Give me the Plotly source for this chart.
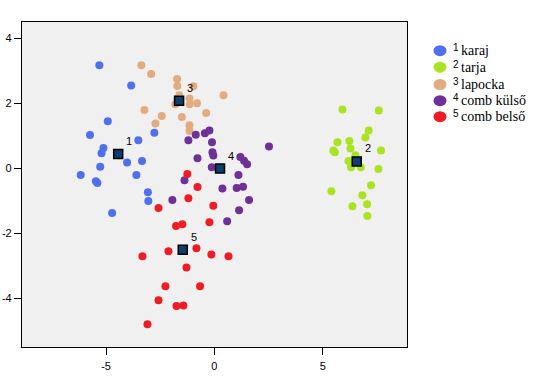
import plotly.graph_objects as go

# ---- data ----
karaj_x = [-5.31, -3.84, -4.92, -5.74, -5.12, -5.21, -3.51, -2.77, -4.03, -3.34, -5.27, -6.17, -5.47, -5.40, -3.60, -3.07, -3.05, -4.72]
karaj_y = [3.17, 2.55, 1.45, 1.02, 0.62, 0.46, 0.86, 1.09, 0.18, 0.22, 0.05, -0.21, -0.40, -0.45, -0.21, -0.74, -1.01, -1.38]

tarja_x = [5.91, 7.59, 7.12, 6.97, 5.68, 6.23, 5.49, 5.56, 6.28, 7.69, 6.51, 6.19, 6.31, 6.76, 7.57, 7.23, 5.40, 6.83, 7.05, 6.37, 7.06]
tarja_y = [1.81, 1.78, 1.16, 0.95, 0.80, 0.84, 0.55, 0.49, 0.61, 0.55, 0.40, 0.22, 0.03, 0.03, -0.02, -0.52, -0.71, -0.83, -1.11, -1.17, -1.47]

lapocka_x = [-3.37, -2.92, -1.72, -1.71, -0.97, -1.62, -1.15, -1.80, -1.14, -0.80, -3.23, -2.43, -1.50, -2.72, -1.15, -1.15, 0.42, -0.38]
lapocka_y = [3.17, 2.90, 2.75, 2.53, 2.52, 2.25, 2.15, 1.97, 1.97, 2.00, 1.79, 1.61, 1.58, 1.38, 1.32, 1.15, 2.25, 1.70]

kulso_x = [-0.86, -0.44, -0.23, -1.20, -0.11, 2.52, -0.09, -0.05, -0.78, 1.20, 1.37, 1.51, -0.12, 1.11, -1.38, 0.37, 1.03, 1.32, 1.60, -1.94, 1.14, 0.59]
kulso_y = [1.03, 1.08, 1.16, 0.86, 0.80, 0.67, 0.49, 0.39, 0.31, 0.35, 0.23, 0.12, 0.03, -0.21, -0.37, -0.62, -0.61, -0.57, -0.98, -0.98, -1.29, -1.63]

belso_x = [-1.25, -0.78, -1.20, -2.58, -0.05, -0.23, -1.48, -1.77, -0.83, -2.12, -3.32, -0.14, 0.65, -1.29, -2.26, -0.66, -2.58, -1.75, -1.43, -3.09]
belso_y = [-0.18, -0.58, -0.92, -1.22, -1.15, -1.66, -1.72, -1.78, -2.46, -2.55, -2.71, -2.65, -2.71, -3.05, -3.63, -3.63, -4.06, -4.24, -4.22, -4.80]

center_x = [-4.44, 6.57, -1.63, 0.26, -1.46]
center_y = [0.44, 0.21, 2.08, -0.01, -2.51]
center_labels = ["1", "2", "3", "4", "5"]

group_names = ["karaj", "tarja", "lapocka", "comb külső", "comb belső"]
group_colors = ["#4F70EE", "#A8E420", "#E2AC80", "#6F3097", "#EE1D25"]
group_x = [karaj_x, tarja_x, lapocka_x, kulso_x, belso_x]
group_y = [karaj_y, tarja_y, lapocka_y, kulso_y, belso_y]

x_ticks = [-5, 0, 5]
x_tick_text = ["-5", "0", "5"]
y_ticks = [-4, -2, 0, 2, 4]
y_tick_text = ["-4", "-2", "0", "2", "4"]

fig = go.Figure()
for name, col, xs, ys in zip(group_names, group_colors, group_x, group_y):
    fig.add_trace(go.Scatter(x=xs, y=ys, mode="markers", name=name,
                             marker=dict(color=col, size=8, line=dict(width=0)),
                             showlegend=False))

fig.add_trace(go.Scatter(x=center_x, y=center_y, mode="markers", showlegend=False,
                         marker=dict(symbol="square", size=9, color="#0C3E70",
                                     line=dict(color="black", width=1.5))))

annotations = []
for cx, cy, lab in zip(center_x, center_y, center_labels):
    annotations.append(dict(x=cx, y=cy, xref="x", yref="y", text=lab, showarrow=False,
                            xshift=11, yshift=13,
                            font=dict(family="Arial", size=11, color="black")))

W, H = 551, 379
PL, PT, PR, PB = 22, 22, 407, 347
pw, ph = PR - PL, PB - PT

shapes = []
leg_rows = [50.7, 67.2, 84.5, 100.7, 116.7]
for i, (name, col) in enumerate(zip(group_names, group_colors)):
    py = leg_rows[i]
    yp = (PB - py) / ph
    xp = (440 - PL) / pw
    shapes.append(dict(type="circle", xref="paper", yref="paper", xsizemode="pixel",
                       ysizemode="pixel", xanchor=xp, yanchor=yp,
                       x0=-6.5, x1=6.5, y0=-5.5, y1=5.5,
                       fillcolor=col, line=dict(width=0)))
    annotations.append(dict(x=(451 - PL) / pw, y=yp, xref="paper", yref="paper",
                            text=str(i + 1), showarrow=False, xanchor="left", yanchor="middle",
                            yshift=3, font=dict(family="Arial", size=10, color="black")))
    annotations.append(dict(x=(459 - PL) / pw, y=yp, xref="paper", yref="paper",
                            text=name, showarrow=False, xanchor="left", yanchor="middle",
                            font=dict(family="Liberation Serif", size=14, color="black")))

axis_common = dict(showgrid=False, zeroline=False, showline=True, linecolor="black",
                   linewidth=1.2, mirror=True, ticks="outside", ticklen=7, tickcolor="black",
                   automargin=False,
                   tickfont=dict(family="Arial", size=11, color="black"))

fig.update_layout(
    width=W, height=H,
    margin=dict(l=PL, r=W - PR, t=PT, b=H - PB),
    paper_bgcolor="white", plot_bgcolor="#F0F0F0",
    xaxis=dict(range=[-8.88, 8.89], tickvals=x_ticks, ticktext=x_tick_text,
               ticklabelstandoff=2, **axis_common),
    yaxis=dict(range=[-5.5, 4.5], tickvals=y_ticks, ticktext=y_tick_text, **axis_common),
    shapes=shapes, annotations=annotations,
    showlegend=False,
)

fig.write_html("out.html", config={"displayModeBar": False},
               post_script="document.body.style.margin='0';")
